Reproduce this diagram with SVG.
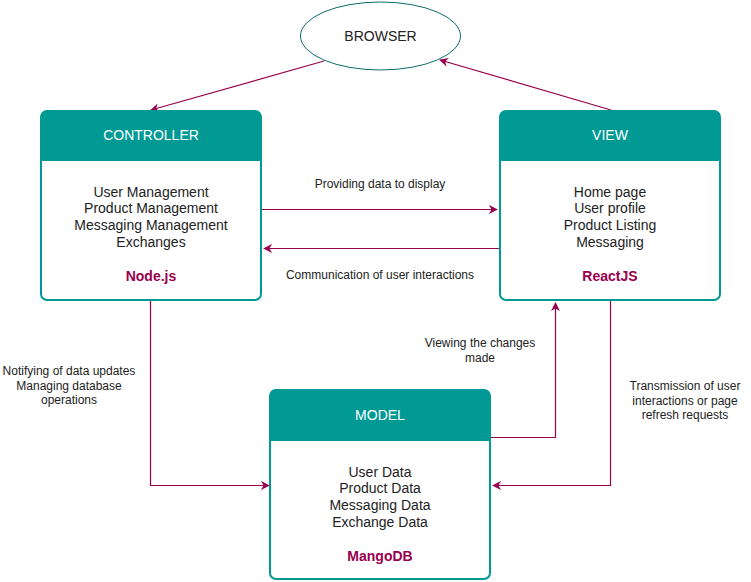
<svg xmlns="http://www.w3.org/2000/svg" width="751" height="582" viewBox="0 0 751 582">
<defs>
<style>
.box{fill:#fff;stroke:#009994;stroke-width:2}
.hdr{fill:#009994}
.title{font-family:"Liberation Sans",Arial,sans-serif;font-size:14px;fill:#fff;text-anchor:middle}
.body{font-family:"Liberation Sans",Arial,sans-serif;font-size:14px;fill:#222;text-anchor:middle}
.tech{font-family:"Liberation Sans",Arial,sans-serif;font-size:14px;font-weight:bold;fill:#99004D;text-anchor:middle}
.lbl{font-family:"Liberation Sans",Arial,sans-serif;font-size:12px;fill:#222;text-anchor:middle}
.conn{fill:none;stroke:#99004D;stroke-width:1.2}
</style>
<marker id="arr" viewBox="0 0 10 10" refX="9" refY="5" markerWidth="9" markerHeight="9" markerUnits="userSpaceOnUse" orient="auto">
<path d="M0,0 L10,5 L0,10 L3,5 Z" fill="#99004D"/>
</marker>
</defs>
<rect width="751" height="582" fill="#fff"/>

<g id="connectors">
<line class="conn" x1="324" y1="61" x2="151" y2="110" marker-end="url(#arr)"/>
<line class="conn" x1="611" y1="110" x2="440" y2="60" marker-end="url(#arr)"/>
<line class="conn" x1="262" y1="209.5" x2="497" y2="209.5" marker-end="url(#arr)"/>
<line class="conn" x1="499" y1="248.5" x2="264" y2="248.5" marker-end="url(#arr)"/>
<polyline class="conn" points="150.5,301 150.5,485.5 269,485.5" marker-end="url(#arr)"/>
<polyline class="conn" points="491,437.5 555.5,437.5 555.5,303" marker-end="url(#arr)"/>
<polyline class="conn" points="610.5,301 610.5,485.5 493,485.5" marker-end="url(#arr)"/>
<text class="lbl" x="380" y="188">Providing data to display</text>
<text class="lbl" x="380" y="279">Communication of user interactions</text>
<text class="lbl"><tspan x="69" y="375">Notifying of data updates</tspan><tspan x="69" y="389.5">Managing database</tspan><tspan x="69" y="404">operations</tspan></text>
<text class="lbl"><tspan x="480" y="347">Viewing the changes</tspan><tspan x="480" y="362">made</tspan></text>
<text class="lbl"><tspan x="685" y="390">Transmission of user</tspan><tspan x="685" y="404.5">interactions or page</tspan><tspan x="685" y="419">refresh requests</tspan></text>
</g>

<g id="browser">
<ellipse cx="380.5" cy="36" rx="80" ry="34" fill="#fff" stroke="#0e6b6b" stroke-width="1"/>
<text class="body" x="380.5" y="41">BROWSER</text>
</g>

<g id="controller">
<rect class="box" x="41" y="111" width="220" height="189" rx="6"/>
<path class="hdr" d="M41,161 V117 A6,6 0 0 1 47,111 H255 A6,6 0 0 1 261,117 V161 Z"/>
<text class="title" x="151" y="140">CONTROLLER</text>
<text class="body"><tspan x="151" y="196.5">User Management</tspan><tspan x="151" y="213">Product Management</tspan><tspan x="151" y="230">Messaging Management</tspan><tspan x="151" y="246.5">Exchanges</tspan></text>
<text class="tech" x="151" y="281">Node.js</text>
</g>

<g id="view">
<rect class="box" x="500" y="111" width="220" height="189" rx="6"/>
<path class="hdr" d="M500,161 V117 A6,6 0 0 1 506,111 H714 A6,6 0 0 1 720,117 V161 Z"/>
<text class="title" x="610" y="140">VIEW</text>
<text class="body"><tspan x="610" y="196.5">Home page</tspan><tspan x="610" y="213">User profile</tspan><tspan x="610" y="230">Product Listing</tspan><tspan x="610" y="246.5">Messaging</tspan></text>
<text class="tech" x="610" y="281">ReactJS</text>
</g>

<g id="model">
<rect class="box" x="270" y="390" width="220" height="189" rx="6"/>
<path class="hdr" d="M270,441 V396 A6,6 0 0 1 276,390 H484 A6,6 0 0 1 490,396 V441 Z"/>
<text class="title" x="380" y="420">MODEL</text>
<text class="body"><tspan x="380" y="476.5">User Data</tspan><tspan x="380" y="493">Product Data</tspan><tspan x="380" y="510">Messaging Data</tspan><tspan x="380" y="526.5">Exchange Data</tspan></text>
<text class="tech" x="380" y="561">MangoDB</text>
</g>
</svg>
